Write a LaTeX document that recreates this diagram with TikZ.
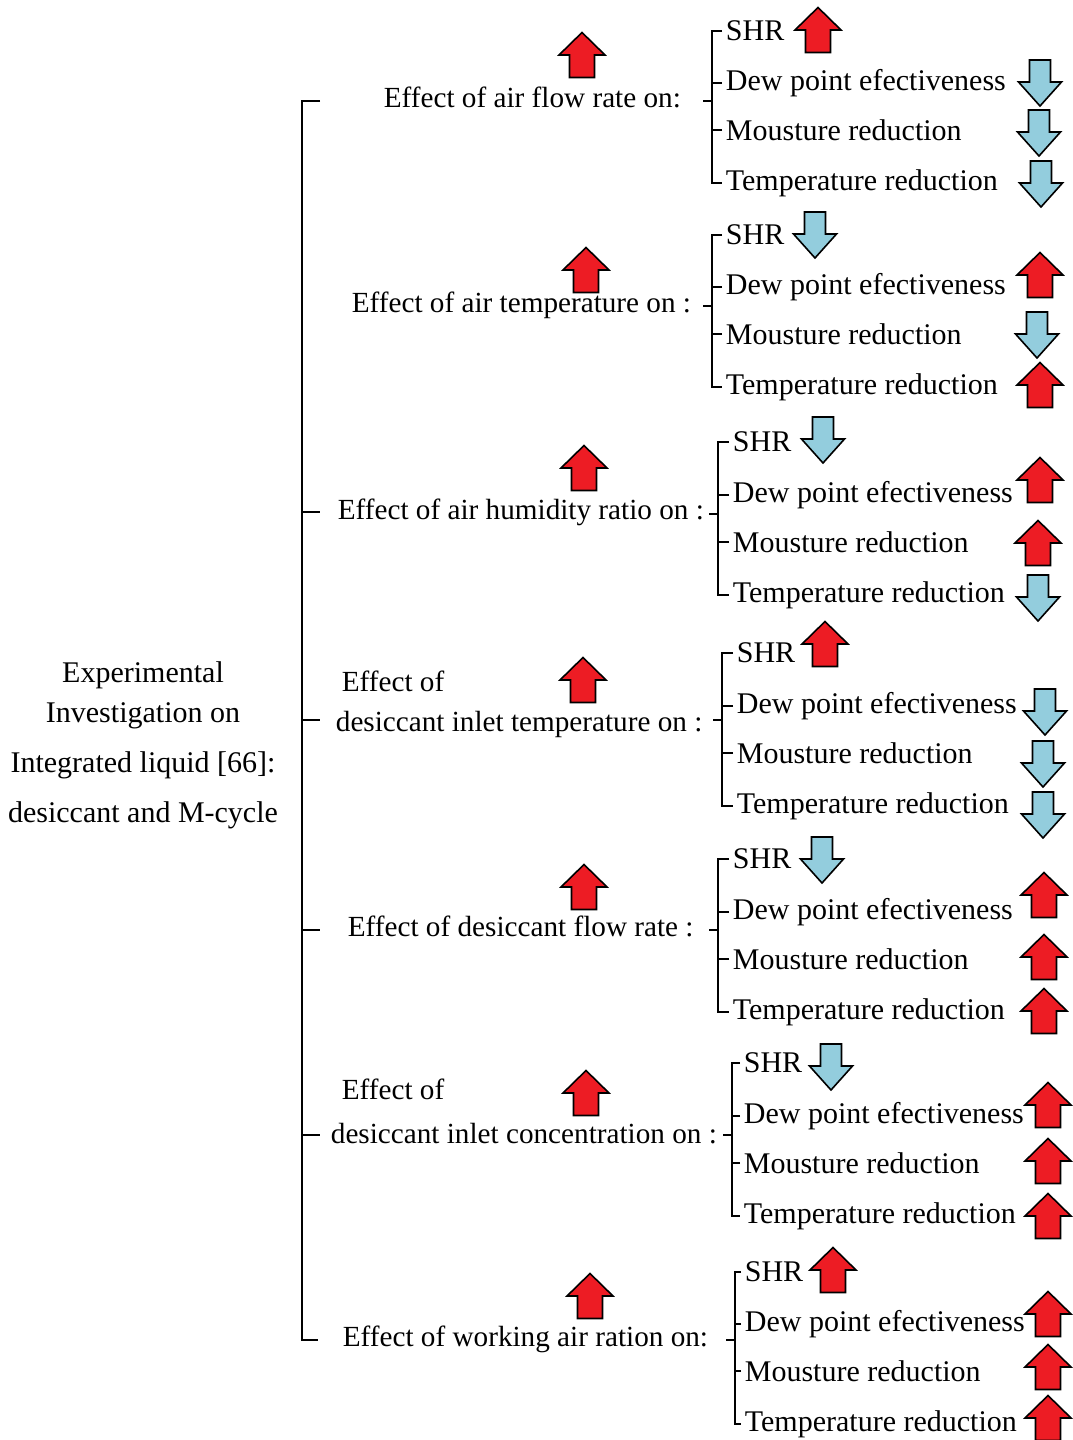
\documentclass[tikz,border=0pt]{standalone}
\usepackage{fontspec}
\setmainfont{Liberation Serif}
\usepackage{tikz}
\usetikzlibrary{positioning}

\definecolor{upred}{RGB}{237,28,36}
\definecolor{downblue}{RGB}{147,205,221}

\begin{document}
\begin{tikzpicture}[
  x=0.5pt, y=-0.5pt,
  line width=0.9pt,
  root/.style={align=center, inner sep=0pt, font=\fontsize{15}{25}\selectfont},
  lab/.style={anchor=mid west, yshift=-1pt, inner sep=0pt, font=\fontsize{14.6}{20}\selectfont},
  labtwo/.style={anchor=north west, align=left, inner sep=0pt, font=\fontsize{14.6}{20}\selectfont},
  item/.style={anchor=mid west, yshift=-1.5pt, inner sep=1.5pt, font=\fontsize{15}{20}\selectfont},
  uparr/.pic={\draw[fill=upred, line width=0.8pt] (-12.5,22.5) -- (12.5,22.5) -- (12.5,0) -- (23,0) -- (0,-22.5) -- (-23,0) -- (-12.5,0) -- cycle;},
  downarr/.pic={\draw[fill=downblue, line width=0.8pt] (-10.5,-23) -- (10.5,-23) -- (10.5,-1) -- (21.5,-1) -- (0,23) -- (-21.5,-1) -- (-10.5,-1) -- cycle;}
]
\useasboundingbox (0,0) rectangle (1072,1440);

\node[root] (exp) at (143,745) {Experimental\\[-5pt]Investigation on\\Integrated liquid [66]:\\desiccant and M-cycle};

% main bracket
\coordinate (mtop) at (302,101);
\coordinate (mbot) at (302,1340);
\draw (320,101) -- (mtop) -- (mbot) -- (318,1340);
\draw (302,512) -- ++(18,0) (302,720) -- ++(18,0) (302,930) -- ++(18,0) (302,1135) -- ++(18,0);

% air flow rate
\node[lab] (flow) at (383,101) {Effect of air flow rate on:};
\pic at (582,55) {uparr};
\coordinate (flowJ) at (712,101);
\node[item] (flowS) at (722,33) {SHR};
\node[item] (flowD) at (722,83) {Dew point efectiveness};
\node[item] (flowM) at (722,133) {Mousture reduction};
\node[item] (flowT) at (722,183) {Temperature reduction};
\draw (flowS.west) -- ++(-10,0) |- (flowT.west);
\draw (flowD.west) -- ++(-10,0) (flowM.west) -- ++(-10,0) (flowJ) -- ++(-9,0);
\pic at (818,30) {uparr};
\pic at (1040,83) {downarr};
\pic at (1039,133) {downarr};
\pic at (1041,184) {downarr};

% air temperature
\node[lab] (temp) at (351,306) {Effect of air temperature on :};
\pic at (586,270) {uparr};
\coordinate (tempJ) at (712,306);
\node[item] (tempS) at (722,237) {SHR};
\node[item] (tempD) at (722,287) {Dew point efectiveness};
\node[item] (tempM) at (722,337) {Mousture reduction};
\node[item] (tempT) at (722,387) {Temperature reduction};
\draw (tempS.west) -- ++(-10,0) |- (tempT.west);
\draw (tempD.west) -- ++(-10,0) (tempM.west) -- ++(-10,0) (tempJ) -- ++(-9,0);
\pic at (815,235) {downarr};
\pic at (1040,275) {uparr};
\pic at (1037,335) {downarr};
\pic at (1040,385) {uparr};

% air humidity ratio
\node[lab] (hum) at (337,513) {Effect of air humidity ratio on :};
\pic at (584,468) {uparr};
\coordinate (humJ) at (718,514);
\node[item] (humS) at (729,444) {SHR};
\node[item] (humD) at (729,495) {Dew point efectiveness};
\node[item] (humM) at (729,545) {Mousture reduction};
\node[item] (humT) at (729,595) {Temperature reduction};
\draw (humS.west) -- ++(-11,0) |- (humT.west);
\draw (humD.west) -- ++(-11,0) (humM.west) -- ++(-11,0) (humJ) -- ++(-9,0);
\pic at (823,440) {downarr};
\pic at (1040,480) {uparr};
\pic at (1038,543) {uparr};
\pic at (1038,598) {downarr};

% desiccant inlet temperature
\node[labtwo] (dtemp) at (335,670) {\hspace{3pt}Effect of\\desiccant inlet temperature on :};
\pic at (583,680) {uparr};
\coordinate (dtempJ) at (722,720);
\node[item] (dtempS) at (733,655) {SHR};
\node[item] (dtempD) at (733,706) {Dew point efectiveness};
\node[item] (dtempM) at (733,756) {Mousture reduction};
\node[item] (dtempT) at (733,806) {Temperature reduction};
\draw (dtempS.west) -- ++(-11,0) |- (dtempT.west);
\draw (dtempD.west) -- ++(-11,0) (dtempM.west) -- ++(-11,0) (dtempJ) -- ++(-9,0);
\pic at (825,644) {uparr};
\pic at (1045,712) {downarr};
\pic at (1043,764) {downarr};
\pic at (1043,815) {downarr};

% desiccant flow rate
\node[lab] (dflow) at (347,930) {Effect of desiccant flow rate :};
\pic at (584,887) {uparr};
\coordinate (dflowJ) at (718,930);
\node[item] (dflowS) at (729,861) {SHR};
\node[item] (dflowD) at (729,912) {Dew point efectiveness};
\node[item] (dflowM) at (729,962) {Mousture reduction};
\node[item] (dflowT) at (729,1012) {Temperature reduction};
\draw (dflowS.west) -- ++(-11,0) |- (dflowT.west);
\draw (dflowD.west) -- ++(-11,0) (dflowM.west) -- ++(-11,0) (dflowJ) -- ++(-9,0);
\pic at (822,860) {downarr};
\pic at (1044,895) {uparr};
\pic at (1044,957) {uparr};
\pic at (1044,1011) {uparr};

% desiccant inlet concentration
\node[labtwo] (conc) at (330,1078) {\hspace{5.5pt}Effect of\\[2pt]desiccant inlet concentration on :};
\pic at (586,1093) {uparr};
\coordinate (concJ) at (732,1135);
\node[item] (concS) at (740,1065) {SHR};
\node[item] (concD) at (740,1116) {Dew point efectiveness};
\node[item] (concM) at (740,1166) {Mousture reduction};
\node[item] (concT) at (740,1216) {Temperature reduction};
\draw (concS.west) -- ++(-8,0) |- (concT.west);
\draw (concD.west) -- ++(-8,0) (concM.west) -- ++(-8,0) (concJ) -- ++(-9,0);
\pic at (831,1067) {downarr};
\pic at (1048,1105) {uparr};
\pic at (1048,1161) {uparr};
\pic at (1048,1216) {uparr};

% working air ratio
\node[lab] (work) at (342,1340) {Effect of working air ration on:};
\pic at (590,1296) {uparr};
\coordinate (workJ) at (735,1340);
\node[item] (workS) at (741,1274) {SHR};
\node[item] (workD) at (741,1324) {Dew point efectiveness};
\node[item] (workM) at (741,1374) {Mousture reduction};
\node[item] (workT) at (741,1424) {Temperature reduction};
\draw (workS.west) -- ++(-6,0) |- (workT.west);
\draw (workD.west) -- ++(-6,0) (workM.west) -- ++(-6,0) (workJ) -- ++(-9,0);
\pic at (833,1270) {uparr};
\pic at (1048,1314) {uparr};
\pic at (1048,1367) {uparr};
\pic at (1048,1418) {uparr};
\end{tikzpicture}
\end{document}
